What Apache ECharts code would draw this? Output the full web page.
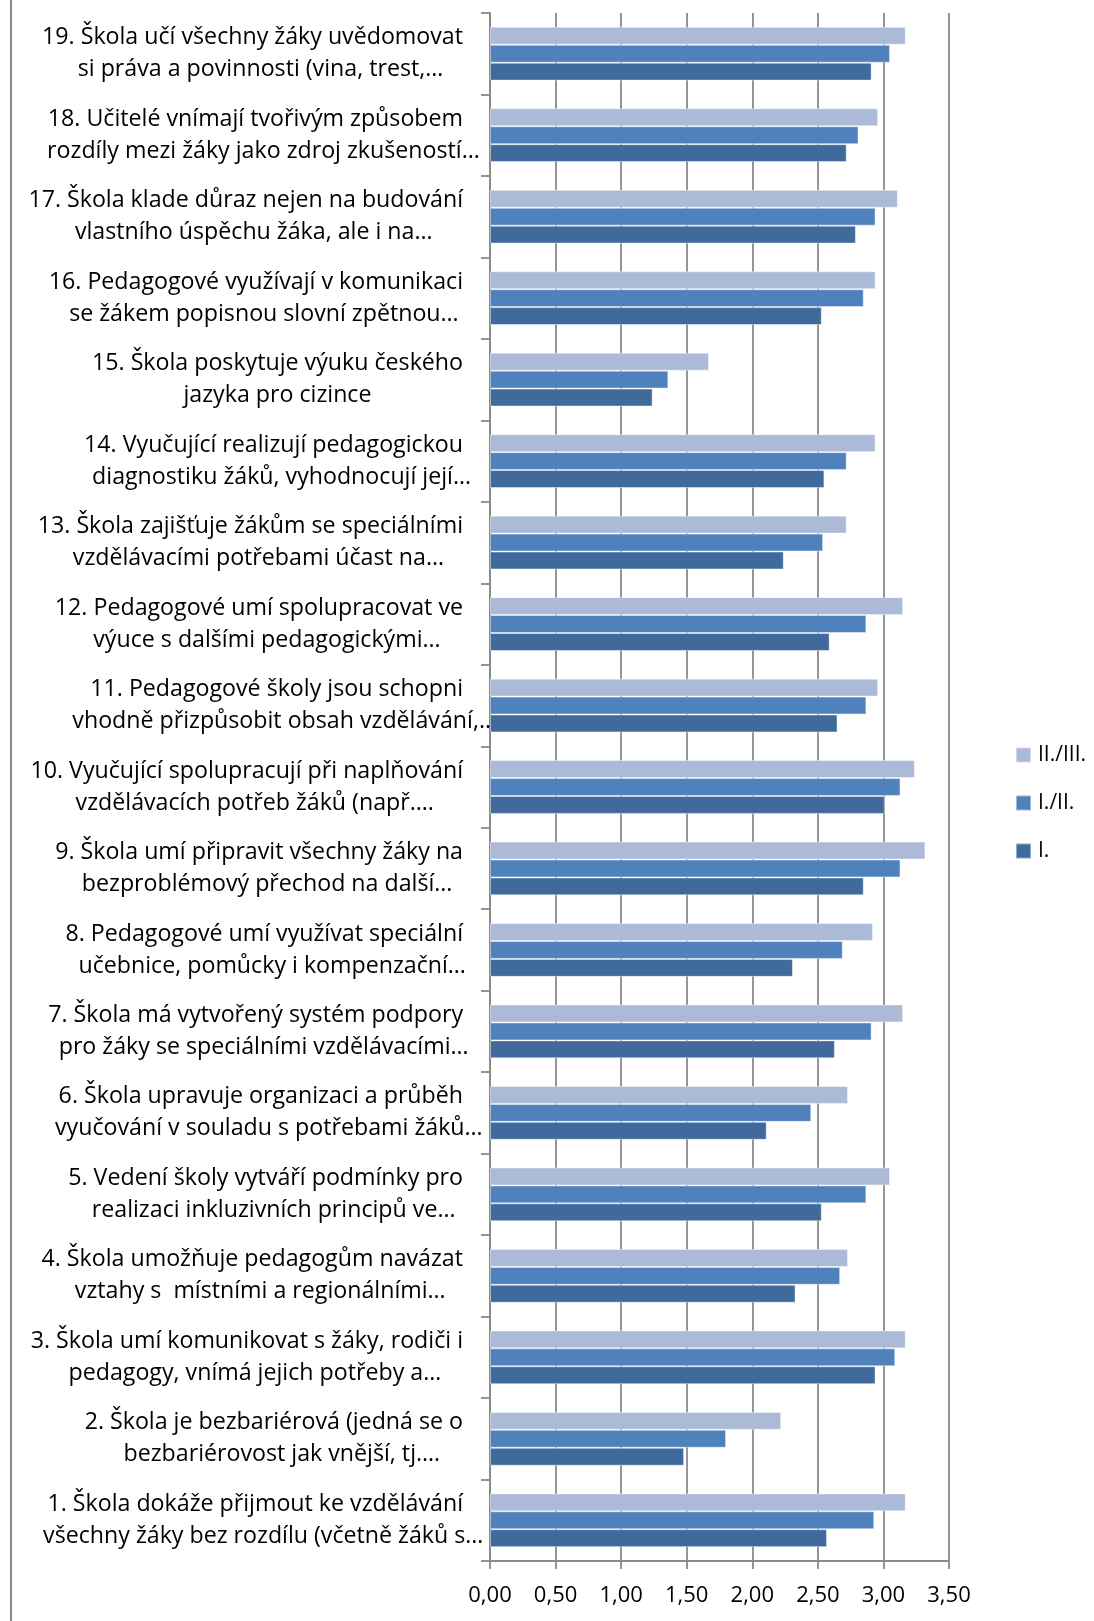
<!DOCTYPE html>
<html>
<head>
<meta charset="utf-8">
<script src="https://cdn.jsdelivr.net/npm/echarts@6/dist/echarts.min.js"></script>
<style>
html,body{margin:0;padding:0;background:#fff;}
#chart{width:1094px;height:1621px;}
</style>
</head>
<body>
<div id="chart"></div>
<script>
// Category labels (bottom to top: 1 .. 19), as shown (two lines, truncated)
const labelLine1 = [
  "1. Škola dokáže přijmout ke vzdělávání",
  "2. Škola je bezbariérová (jedná se o",
  "3. Škola umí komunikovat s žáky, rodiči i",
  "4. Škola umožňuje pedagogům navázat",
  "5. Vedení školy vytváří podmínky pro",
  "6. Škola upravuje organizaci a průběh",
  "7. Škola má vytvořený systém podpory",
  "8. Pedagogové umí využívat speciální",
  "9. Škola umí připravit všechny žáky na",
  "10. Vyučující spolupracují při naplňování",
  "11. Pedagogové školy jsou schopni",
  "12. Pedagogové umí spolupracovat ve",
  "13. Škola zajišťuje žákům se speciálními",
  "14. Vyučující realizují pedagogickou",
  "15. Škola poskytuje výuku českého",
  "16. Pedagogové využívají v komunikaci",
  "17. Škola klade důraz nejen na budování",
  "18. Učitelé vnímají tvořivým způsobem",
  "19. Škola učí všechny žáky uvědomovat"
];
const labelLine2 = [
  "všechny žáky bez rozdílu (včetně žáků s…",
  "bezbariérovost jak vnější, tj.…",
  "pedagogy, vnímá jejich potřeby a…",
  "vztahy s  místními a regionálními…",
  "realizaci inkluzivních principů ve…",
  "vyučování v souladu s potřebami žáků…",
  "pro žáky se speciálními vzdělávacími…",
  "učebnice, pomůcky i kompenzační…",
  "bezproblémový přechod na další…",
  "vzdělávacích potřeb žáků (např.…",
  "vhodně přizpůsobit obsah vzdělávání,…",
  "výuce s dalšími pedagogickými…",
  "vzdělávacími potřebami účast na…",
  "diagnostiku žáků, vyhodnocují její…",
  "jazyka pro cizince",
  "se žákem popisnou slovní zpětnou…",
  "vlastního úspěchu žáka, ale i na…",
  "rozdíly mezi žáky jako zdroj zkušeností…",
  "si práva a povinnosti (vina, trest,…"
];
const categories = labelLine1.map((l, i) => l + "\n" + labelLine2[i]);

const seriesNames = ["II./III.", "I./II.", "I."];
const valuesII_III = [3.17, 2.22, 3.17, 2.73, 3.05, 2.73, 3.15, 2.92, 3.32, 3.24, 2.96, 3.15, 2.72, 2.94, 1.67, 2.94, 3.11, 2.96, 3.17];
const valuesI_II = [2.93, 1.80, 3.09, 2.67, 2.87, 2.45, 2.91, 2.69, 3.13, 3.13, 2.87, 2.87, 2.54, 2.72, 1.36, 2.85, 2.94, 2.81, 3.05];
const valuesI = [2.57, 1.48, 2.94, 2.33, 2.53, 2.11, 2.63, 2.31, 2.85, 3.01, 2.65, 2.59, 2.24, 2.55, 1.24, 2.53, 2.79, 2.72, 2.91];

const xTickValues = [0, 0.5, 1, 1.5, 2, 2.5, 3, 3.5];
const xTickLabels = ["0,00", "0,50", "1,00", "1,50", "2,00", "2,50", "3,00", "3,50"];

// ---- styling ----
const FONT = "Open Sans";
const colors = ["#abbad7", "#4f81bd", "#3f6a9b"];

// fit the category-label font to the reference text width
const cv = document.createElement("canvas");
const ctx = cv.getContext("2d");
ctx.font = "22px '" + FONT + "'";
const refW = ctx.measureText(labelLine1[18]).width;
const catFont = Math.round(22 * 422 / refW * 10) / 10;
ctx.font = catFont + "px '" + FONT + "'";

const rich = {
  a: { align: "right", fontSize: catFont, fontFamily: FONT, color: "#000", lineHeight: 32 }
};
labelLine1.forEach((l, i) => {
  const w1 = ctx.measureText(l).width;
  const trunc = labelLine2[i].endsWith("…") ? 16 : 0;
  rich["b" + i] = {
    align: "center", width: w1 - trunc, padding: [0, 0, 0, trunc],
    fontSize: catFont, fontFamily: FONT, color: "#000", lineHeight: 32
  };
});

const chart = echarts.init(document.getElementById("chart"), null, { renderer: "canvas" });
const gridColor = "#8a8a8a";
const barStyle = c => ({ color: c, borderColor: "rgba(255,255,255,0.45)", borderWidth: 1 });

chart.setOption({
  animation: false,
  backgroundColor: "#fff",
  textStyle: { fontFamily: FONT },
  grid: { left: 490, top: 13, width: 459, height: 1548, containLabel: false },
  legend: {
    orient: "vertical",
    left: 1010,
    top: 738,
    padding: 5,
    itemWidth: 15,
    itemHeight: 15,
    itemGap: 24,
    icon: "rect",
    data: ["II./III.", "I./II.", "I."],
    textStyle: { fontSize: 21, fontFamily: FONT, color: "#000", lineHeight: 24, padding: [0, 0, 0, 2] }
  },
  xAxis: {
    type: "value",
    min: 0, max: 3.5, interval: 0.5,
    axisLine: { show: true, lineStyle: { color: gridColor, width: 1.8 } },
    axisTick: { show: true, length: 8, lineStyle: { color: gridColor, width: 1.8 } },
    splitLine: { show: true, lineStyle: { color: gridColor, width: 1.8 } },
    axisLabel: {
      margin: 24, fontSize: 22, fontFamily: FONT, color: "#000",
      formatter: v => { const k = xTickValues.indexOf(v); return k >= 0 ? xTickLabels[k] : ""; }
    }
  },
  yAxis: {
    type: "category",
    data: categories,
    axisLine: { show: true, lineStyle: { color: gridColor, width: 1.8 } },
    axisTick: { show: true, length: 9, lineStyle: { color: gridColor, width: 1.8 } },
    axisLabel: {
      interval: 0, margin: 27, align: "right",
      formatter: (v, i) => "{a|" + labelLine1[i] + "}\n{b" + i + "|" + labelLine2[i] + "}",
      rich: rich
    }
  },
  series: [
    { name: seriesNames[0], type: "bar", data: valuesII_III, barGap: "0%", barCategoryGap: "34%", itemStyle: barStyle(colors[0]) },
    { name: seriesNames[1], type: "bar", data: valuesI_II, barGap: "0%", barCategoryGap: "34%", itemStyle: barStyle(colors[1]) },
    { name: seriesNames[2], type: "bar", data: valuesI, barGap: "0%", barCategoryGap: "34%", itemStyle: barStyle(colors[2]) }
  ],
  graphic: [
    { type: "line", shape: { x1: 11, y1: 0, x2: 11, y2: 1621 },
      style: { stroke: "#8a8a8a", lineWidth: 2 } }
  ]
});
</script>
</body>
</html>
